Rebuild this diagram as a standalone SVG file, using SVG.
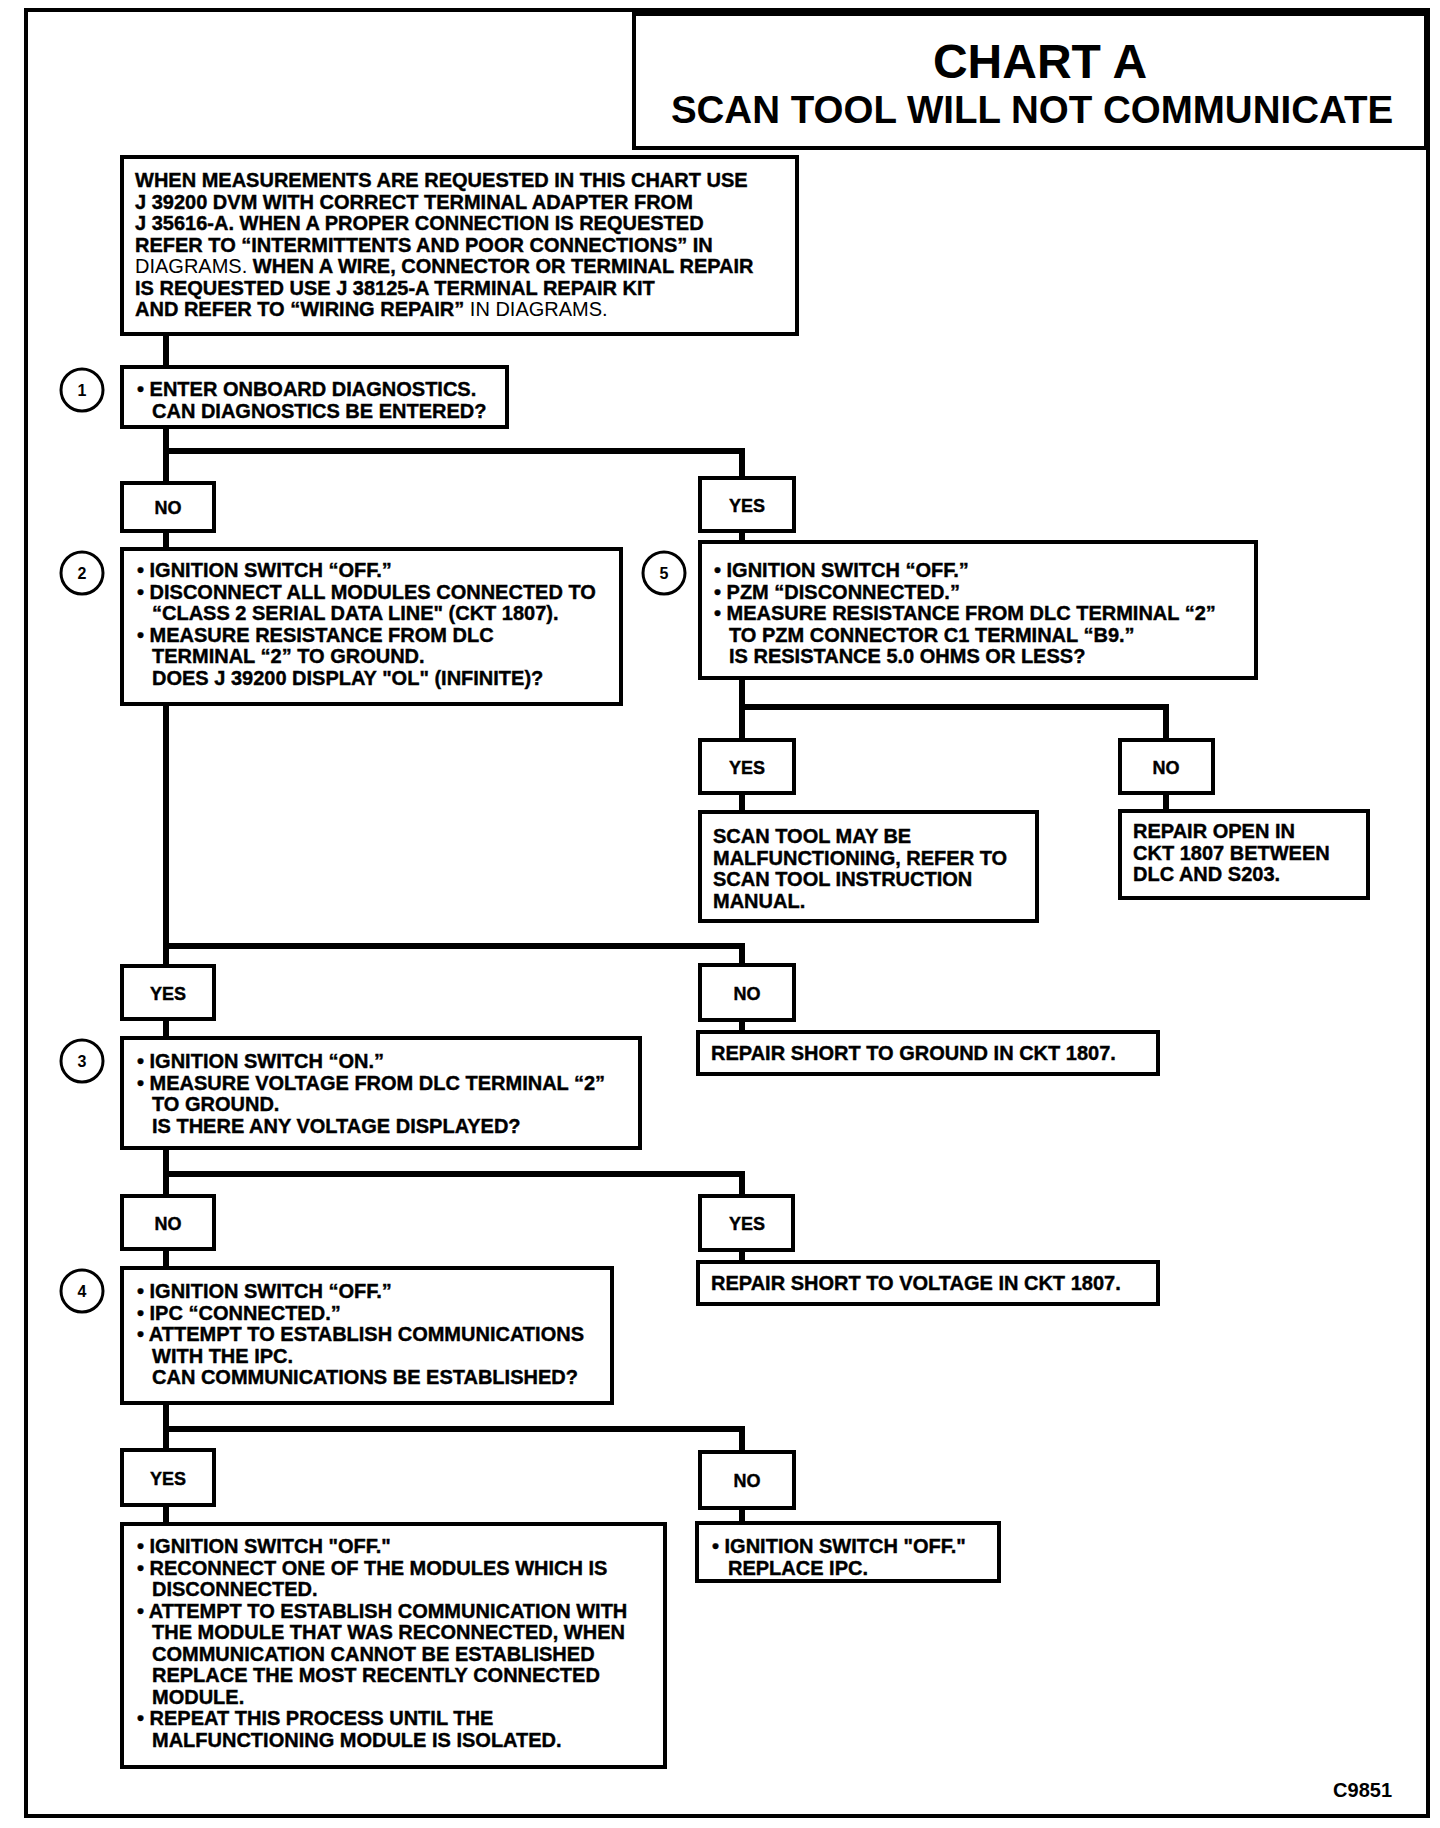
<svg xmlns="http://www.w3.org/2000/svg" width="1440" height="1828" viewBox="0 0 1440 1828">
<style>
.frame{fill:none;stroke:#000;stroke-width:4}
.box{fill:#fff;stroke:#000;stroke-width:4}
.conn{fill:none;stroke:#000;stroke-width:6;stroke-linejoin:miter}
.circ{fill:#fff;stroke:#000;stroke-width:3}
text{font-family:"Liberation Sans",Arial,Helvetica,sans-serif;font-weight:bold;fill:#000}
.t{font-size:20px;stroke:#000;stroke-width:0.4}
.lbl{font-size:18px;text-anchor:middle;stroke:#000;stroke-width:0.4}
.num{font-size:16px;text-anchor:middle}
.lt{font-weight:normal;stroke-width:0}
</style>
<rect width="1440" height="1828" fill="#fff"/>
<rect class="frame" x="26" y="10" width="1402" height="1806"/>
<g id="title">
<rect class="box" x="634" y="14" width="792" height="134"/>
<text x="1040" y="78" font-size="48" text-anchor="middle">CHART A</text>
<text x="1032" y="123" font-size="38.5" text-anchor="middle">SCAN TOOL WILL NOT COMMUNICATE</text>
</g>
<g id="connectors">
<path class="conn" d="M166 333V367"/>
<path class="conn" d="M166 427V483"/>
<path class="conn" d="M166 451H742V478"/>
<path class="conn" d="M166 531V549"/>
<path class="conn" d="M742 531V542"/>
<path class="conn" d="M166 704V966"/>
<path class="conn" d="M166 946H742V965"/>
<path class="conn" d="M742 678V740"/>
<path class="conn" d="M742 707H1166V740"/>
<path class="conn" d="M742 793V812"/>
<path class="conn" d="M1166 793V811"/>
<path class="conn" d="M742 1020V1032"/>
<path class="conn" d="M166 1019V1038"/>
<path class="conn" d="M166 1148V1196"/>
<path class="conn" d="M166 1174H742V1196"/>
<path class="conn" d="M742 1250V1262"/>
<path class="conn" d="M166 1249V1268"/>
<path class="conn" d="M166 1403V1450"/>
<path class="conn" d="M166 1429H742V1452"/>
<path class="conn" d="M166 1505V1524"/>
<path class="conn" d="M742 1508V1523"/>
</g>
<g id="intro">
<rect class="box" x="122" y="157" width="675" height="177"/>
<text class="t" x="135" y="187">WHEN MEASUREMENTS ARE REQUESTED IN THIS CHART USE</text>
<text class="t" x="135" y="208.5">J 39200 DVM WITH CORRECT TERMINAL ADAPTER FROM</text>
<text class="t" x="135" y="230">J 35616-A. WHEN A PROPER CONNECTION IS REQUESTED</text>
<text class="t" x="135" y="251.5">REFER TO “INTERMITTENTS AND POOR CONNECTIONS” IN</text>
<text class="t" x="135" y="273"><tspan class="lt">DIAGRAMS.</tspan> WHEN A WIRE, CONNECTOR OR TERMINAL REPAIR</text>
<text class="t" x="135" y="294.5">IS REQUESTED USE J 38125-A TERMINAL REPAIR KIT</text>
<text class="t" x="135" y="316">AND REFER TO “WIRING REPAIR” <tspan class="lt">IN DIAGRAMS.</tspan></text>
</g>
<g id="step1">
<circle class="circ" cx="82" cy="390" r="21"/>
<text class="num" x="82" y="396">1</text>
<rect class="box" x="122" y="367" width="385" height="60"/>
<text class="t" x="137" y="396">• ENTER ONBOARD DIAGNOSTICS.</text>
<text class="t" x="152" y="417.5">CAN DIAGNOSTICS BE ENTERED?</text>
</g>
<g id="no1">
<rect class="box" x="122" y="483" width="92" height="48"/>
<text class="lbl" x="168" y="514">NO</text>
</g>
<g id="yes1">
<rect class="box" x="700" y="478" width="94" height="53"/>
<text class="lbl" x="747" y="512">YES</text>
</g>
<g id="step2">
<circle class="circ" cx="82" cy="573" r="21"/>
<text class="num" x="82" y="579">2</text>
<rect class="box" x="122" y="549" width="499" height="155"/>
<text class="t" x="137" y="577">• IGNITION SWITCH “OFF.”</text>
<text class="t" x="137" y="598.5">• DISCONNECT ALL MODULES CONNECTED TO</text>
<text class="t" x="152" y="620">“CLASS 2 SERIAL DATA LINE" (CKT 1807).</text>
<text class="t" x="137" y="641.5">• MEASURE RESISTANCE FROM DLC</text>
<text class="t" x="152" y="663">TERMINAL “2” TO GROUND.</text>
<text class="t" x="152" y="684.5">DOES J 39200 DISPLAY "OL" (INFINITE)?</text>
</g>
<g id="step5">
<circle class="circ" cx="664" cy="573" r="21"/>
<text class="num" x="664" y="579">5</text>
<rect class="box" x="700" y="542" width="556" height="136"/>
<text class="t" x="714" y="577">• IGNITION SWITCH “OFF.”</text>
<text class="t" x="714" y="598.5">• PZM “DISCONNECTED.”</text>
<text class="t" x="714" y="620">• MEASURE RESISTANCE FROM DLC TERMINAL “2”</text>
<text class="t" x="729" y="641.5">TO PZM CONNECTOR C1 TERMINAL “B9.”</text>
<text class="t" x="729" y="663">IS RESISTANCE 5.0 OHMS OR LESS?</text>
</g>
<g id="yes5">
<rect class="box" x="700" y="740" width="94" height="53"/>
<text class="lbl" x="747" y="774">YES</text>
</g>
<g id="no5">
<rect class="box" x="1120" y="740" width="93" height="53"/>
<text class="lbl" x="1166" y="774">NO</text>
</g>
<g id="scanTool">
<rect class="box" x="700" y="812" width="337" height="109"/>
<text class="t" x="713" y="843">SCAN TOOL MAY BE</text>
<text class="t" x="713" y="864.5">MALFUNCTIONING, REFER TO</text>
<text class="t" x="713" y="886">SCAN TOOL INSTRUCTION</text>
<text class="t" x="713" y="907.5">MANUAL.</text>
</g>
<g id="repairOpen">
<rect class="box" x="1120" y="811" width="248" height="87"/>
<text class="t" x="1133" y="838">REPAIR OPEN IN</text>
<text class="t" x="1133" y="859.5">CKT 1807 BETWEEN</text>
<text class="t" x="1133" y="881">DLC AND S203.</text>
</g>
<g id="yes2">
<rect class="box" x="122" y="966" width="92" height="53"/>
<text class="lbl" x="168" y="1000">YES</text>
</g>
<g id="no2">
<rect class="box" x="700" y="965" width="94" height="55"/>
<text class="lbl" x="747" y="1000">NO</text>
</g>
<g id="repairGround">
<rect class="box" x="698" y="1032" width="460" height="42"/>
<text class="t" x="711" y="1060">REPAIR SHORT TO GROUND IN CKT 1807.</text>
</g>
<g id="step3">
<circle class="circ" cx="82" cy="1061" r="21"/>
<text class="num" x="82" y="1067">3</text>
<rect class="box" x="122" y="1038" width="518" height="110"/>
<text class="t" x="137" y="1068">• IGNITION SWITCH “ON.”</text>
<text class="t" x="137" y="1089.5">• MEASURE VOLTAGE FROM DLC TERMINAL “2”</text>
<text class="t" x="152" y="1111">TO GROUND.</text>
<text class="t" x="152" y="1132.5">IS THERE ANY VOLTAGE DISPLAYED?</text>
</g>
<g id="no3">
<rect class="box" x="122" y="1196" width="92" height="53"/>
<text class="lbl" x="168" y="1230">NO</text>
</g>
<g id="yes3">
<rect class="box" x="700" y="1196" width="93" height="54"/>
<text class="lbl" x="747" y="1230">YES</text>
</g>
<g id="repairVoltage">
<rect class="box" x="698" y="1262" width="460" height="42"/>
<text class="t" x="711" y="1290">REPAIR SHORT TO VOLTAGE IN CKT 1807.</text>
</g>
<g id="step4">
<circle class="circ" cx="82" cy="1291" r="21"/>
<text class="num" x="82" y="1297">4</text>
<rect class="box" x="122" y="1268" width="490" height="135"/>
<text class="t" x="137" y="1298">• IGNITION SWITCH “OFF.”</text>
<text class="t" x="137" y="1319.5">• IPC “CONNECTED.”</text>
<text class="t" x="137" y="1341">• ATTEMPT TO ESTABLISH COMMUNICATIONS</text>
<text class="t" x="152" y="1362.5">WITH THE IPC.</text>
<text class="t" x="152" y="1384">CAN COMMUNICATIONS BE ESTABLISHED?</text>
</g>
<g id="yes4">
<rect class="box" x="122" y="1450" width="92" height="55"/>
<text class="lbl" x="168" y="1485">YES</text>
</g>
<g id="no4">
<rect class="box" x="700" y="1452" width="94" height="56"/>
<text class="lbl" x="747" y="1487">NO</text>
</g>
<g id="isolate">
<rect class="box" x="122" y="1524" width="543" height="243"/>
<text class="t" x="137" y="1553">• IGNITION SWITCH "OFF."</text>
<text class="t" x="137" y="1574.5">• RECONNECT ONE OF THE MODULES WHICH IS</text>
<text class="t" x="152" y="1596">DISCONNECTED.</text>
<text class="t" x="137" y="1617.5">• ATTEMPT TO ESTABLISH COMMUNICATION WITH</text>
<text class="t" x="152" y="1639">THE MODULE THAT WAS RECONNECTED, WHEN</text>
<text class="t" x="152" y="1660.5">COMMUNICATION CANNOT BE ESTABLISHED</text>
<text class="t" x="152" y="1682">REPLACE THE MOST RECENTLY CONNECTED</text>
<text class="t" x="152" y="1703.5">MODULE.</text>
<text class="t" x="137" y="1725">• REPEAT THIS PROCESS UNTIL THE</text>
<text class="t" x="152" y="1746.5">MALFUNCTIONING MODULE IS ISOLATED.</text>
</g>
<g id="replaceIPC">
<rect class="box" x="697" y="1523" width="302" height="58"/>
<text class="t" x="712" y="1553">• IGNITION SWITCH "OFF."</text>
<text class="t" x="728" y="1574.5">REPLACE IPC.</text>
</g>
<text x="1392" y="1797" font-size="20" text-anchor="end">C9851</text>
</svg>
